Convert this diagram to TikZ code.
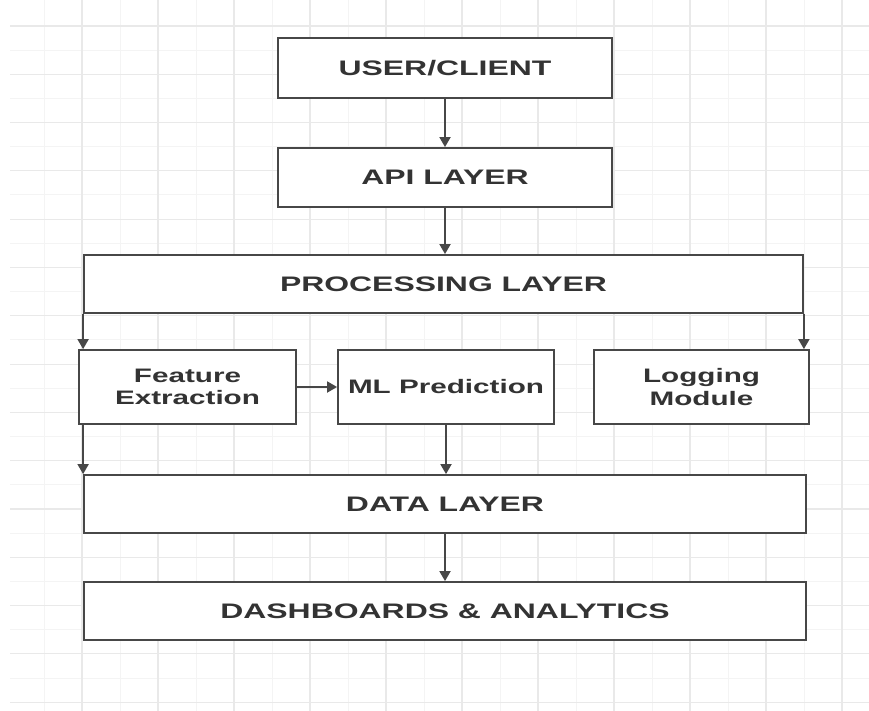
\documentclass[tikz,border=0pt]{standalone}
\usepackage{fontspec}
\setmainfont{Liberation Sans}
\usetikzlibrary{arrows.meta}
\definecolor{linec}{HTML}{474747}
\definecolor{textc}{HTML}{333333}
\definecolor{gridmaj}{HTML}{E9E9E9}
\definecolor{gridmin}{HTML}{F4F4F4}
\newcommand\sx[1]{\scalebox{1.52}[1]{#1}}
\tikzset{
  box/.style={draw=linec, line width=1.8pt, fill=white, inner sep=0pt, text=textc,
    font=\bfseries\fontsize{21}{24}\selectfont, align=center},
  smallbox/.style={box, font=\bfseries\fontsize{19.5}{22.5}\selectfont},
  arr/.style={draw=linec, line width=1.8pt, -{Triangle[length=10pt,width=11pt]}},
  conn/.style={draw=linec, line width=1.8pt}
}
\begin{document}
\begin{tikzpicture}[x=1pt,y=-1pt]
\useasboundingbox (0,0) rectangle (869,711);
\fill[white] (0,0) rectangle (869,711);
% minor grid
\foreach \i in {0,...,11} {
  \draw[gridmin, line width=0.8pt] ({44+76*\i},0) -- ({44+76*\i},711);
}
\foreach \j in {0,...,14} {
  \draw[gridmin, line width=0.8pt] (10,{50+48.3*\j}) -- (869,{50+48.3*\j});
}
% major grid
\foreach \i in {0,...,10} {
  \draw[gridmaj, line width=1.1pt] ({82+76*\i},0) -- ({82+76*\i},711);
}
\foreach \j in {0,...,14} {
  \draw[gridmaj, line width=1.1pt] (10,{26+48.3*\j}) -- (869,{26+48.3*\j});
}
% boxes
\node[box, minimum width=334pt, minimum height=60pt] (user) at (445,68) {\sx{USER/CLIENT}};
\node[box, minimum width=334pt, minimum height=59pt] (api) at (445,177.5) {\sx{API LAYER}};
\node[box, minimum width=719pt, minimum height=58pt] (proc) at (443.5,284) {\sx{PROCESSING LAYER}};
\node[smallbox, minimum width=217pt, minimum height=74pt] (feat) at (187.5,387) {\sx{Feature}\\\sx{Extraction}};
\node[smallbox, minimum width=216pt, minimum height=74pt] (ml) at (446,387) {\sx{ML Prediction}};
\node[smallbox, minimum width=215pt, minimum height=74pt] (log) at (701.5,387) {\sx{Logging}\\\sx{Module}};
\node[box, minimum width=722pt, minimum height=58pt] (data) at (445,504) {\sx{DATA LAYER}};
\node[box, minimum width=722pt, minimum height=58pt] (dash) at (445,611) {\sx{DASHBOARDS \& ANALYTICS}};
% connectors
\draw[arr] (user.south) -- (user.south |- api.north);
\draw[arr] (api.south) -- (api.south |- proc.north);
\draw[arr] (proc.south west) -- (proc.south west |- feat.north);
\draw[arr] (proc.south east) -- (proc.south east |- log.north);
\draw[arr] (feat.east) -- (ml.west);
\draw[arr] (feat.south -| data.west) -- (data.north west);
\draw[arr] (ml.south) -- (ml.south |- data.north);
\draw[arr] (data.south) -- (data.south |- dash.north);
\end{tikzpicture}
\end{document}
